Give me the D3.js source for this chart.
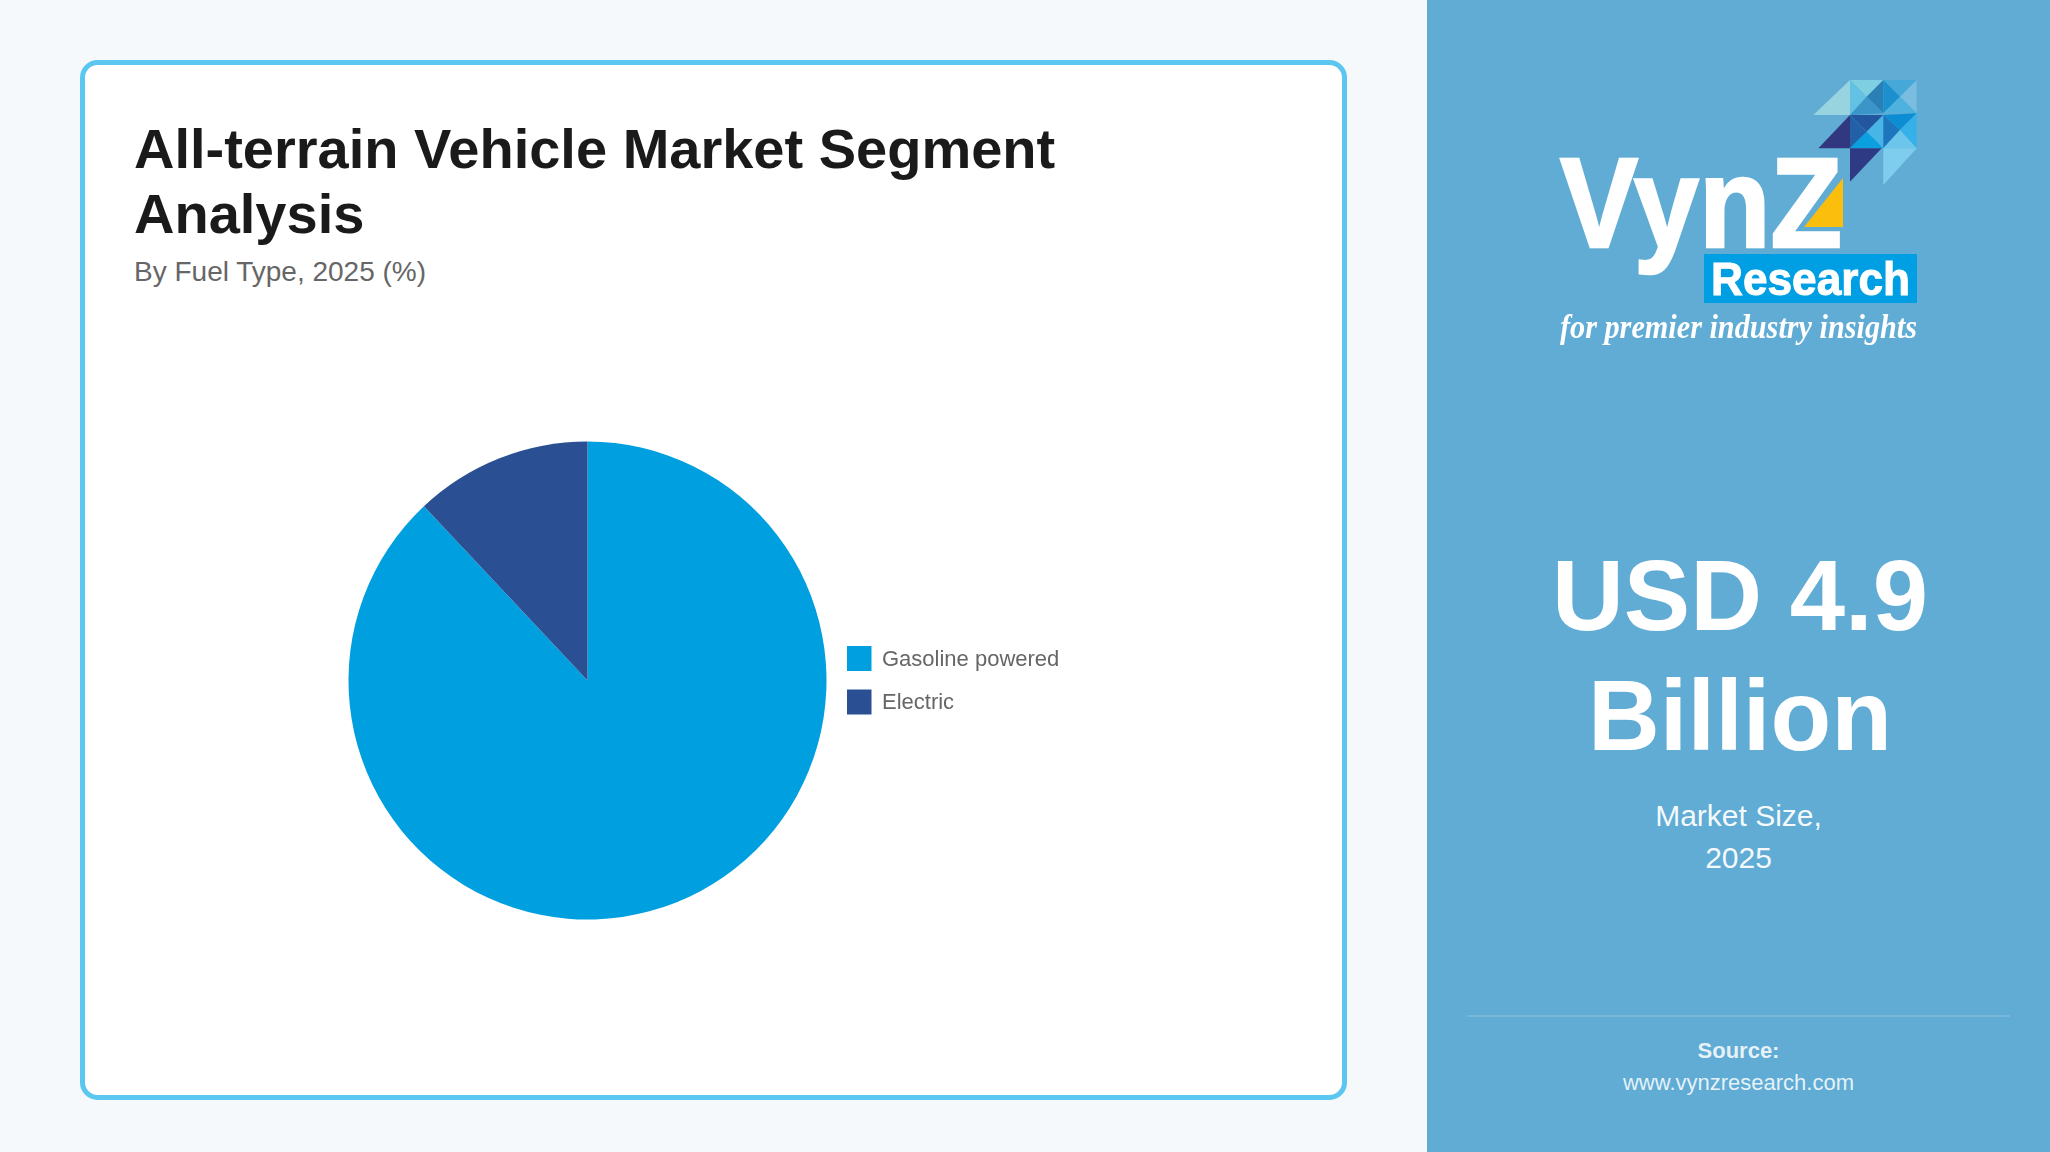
<!DOCTYPE html>
<html>
<head>
<meta charset="utf-8">
<title>All-terrain Vehicle Market Segment Analysis</title>
<script src="https://cdn.jsdelivr.net/npm/d3@7"></script>
<style>
  html, body { margin: 0; padding: 0; background: #f5f9fc; overflow: hidden; }
  text { font-family: "Liberation Sans", Arial, sans-serif; }
</style>
</head>
<body>
<div id="chart"></div>
<script>
// Chart data
const categories = ['Gasoline powered', 'Electric'];
const shares = [88, 12];
const sliceColors = ['#049fe0', '#2a4f92'];

// Page text
const titleLines = ['All-terrain Vehicle Market Segment', 'Analysis'];
const subtitle = 'By Fuel Type, 2025 (%)';
const sizeLines = ['USD 4.9', 'Billion'];
const sizeCaption = ['Market Size,', '2025'];

// Logo mosaic, [points in 130px crop units, colour]
const logoTriangles = [
  ['150,30 150,135 40,135', '#97d4e0'],
  ['150,30 250,30 200,80', '#7fcfe2'],
  ['150,30 200,80 150,135', '#63c2e3'],
  ['250,30 200,80 250,130', '#2c80b4'],
  ['200,80 250,130 150,135', '#3a95c8'],
  ['250,30 350,30 300,80', '#45a8d9'],
  ['250,30 300,80 250,130', '#1d8fcf'],
  ['350,30 350,130 300,80', '#7abde0'],
  ['300,80 350,130 250,130', '#50b2de'],
  ['150,135 150,235 55,235', '#30397f'],
  ['150,135 250,135 200,185', '#24569f'],
  ['150,135 200,185 150,235', '#2060a8'],
  ['250,135 200,185 250,235', '#47b5e6'],
  ['200,185 250,235 150,235', '#07a0e0'],
  ['250,135 350,130 300,180', '#0b8dd4'],
  ['250,135 300,180 250,235', '#1b75bd'],
  ['350,130 350,235 300,180', '#35b0e8'],
  ['300,180 350,235 250,235', '#6cc6ec'],
  ['150,235 245,235 150,335', '#2f3a84'],
  ['250,235 350,235 250,345', '#7fcdee']
];

const width = 2050;
const height = 1152;

const svg = d3.select('#chart')
  .append('svg')
  .attr('width', width)
  .attr('height', height)
  .style('display', 'block');

// The source chart and logo are soft, scaled-up images
const defs = svg.append('defs');
defs.append('filter').attr('id', 'soft')
  .append('feGaussianBlur').attr('stdDeviation', 0.7);

svg.append('rect')
  .attr('width', width)
  .attr('height', height)
  .attr('fill', '#f5f9fc');

// Card
svg.append('rect')
  .attr('x', 82.5)
  .attr('y', 62.5)
  .attr('width', 1262)
  .attr('height', 1035)
  .attr('rx', 15)
  .attr('fill', '#fff')
  .attr('stroke', '#5bc6f0')
  .attr('stroke-width', 5);

svg.selectAll('.title')
  .data(titleLines)
  .join('text')
  .attr('class', 'title')
  .attr('x', 134)
  .attr('y', (d, i) => 168 + i * 65)
  .attr('font-size', 56)
  .attr('font-weight', 700)
  .attr('fill', '#1a1a1a')
  .text(d => d);

svg.append('text')
  .attr('x', 134)
  .attr('y', 281)
  .attr('font-size', 28)
  .attr('fill', '#666')
  .text(subtitle);

// Pie
const chart = svg.append('g').attr('filter', 'url(#soft)');
const color = d3.scaleOrdinal().domain(categories).range(sliceColors);
const pie = d3.pie().sort(null)(shares);
const arc = d3.arc().innerRadius(0).outerRadius(239);

chart.append('g')
  .attr('transform', 'translate(587.5,680.5)')
  .selectAll('path')
  .data(pie)
  .join('path')
  .attr('d', arc)
  .attr('fill', (d, i) => color(categories[i]));

// Legend
const legendY = d3.scalePoint().domain(categories).range([658.5, 702]);
const legend = chart.selectAll('.legend')
  .data(categories)
  .join('g')
  .attr('class', 'legend')
  .attr('transform', d => `translate(847,${legendY(d)})`);

legend.append('rect')
  .attr('y', -12.5)
  .attr('width', 24.5)
  .attr('height', 25)
  .attr('fill', d => color(d));

legend.append('text')
  .attr('x', 35)
  .attr('dy', '0.33em')
  .attr('font-size', 22)
  .attr('fill', '#666')
  .text(d => d);

// Side panel
const panelX = 1427;
const panelMid = 1738.5;
svg.append('rect')
  .attr('x', panelX)
  .attr('width', width - panelX)
  .attr('height', height)
  .attr('fill', '#60acd4');

// Logo
const logo = svg.append('g').attr('filter', 'url(#soft)');
logo.append('g')
  .attr('transform', 'translate(1800,70) scale(0.3333)')
  .selectAll('polygon')
  .data(logoTriangles)
  .join('polygon')
  .attr('points', d => d[0])
  .attr('fill', d => d[1]);

logo.append('text')
  .attr('x', 1560)
  .attr('y', 247)
  .attr('font-size', 128)
  .attr('font-weight', 700)
  .attr('fill', '#fff')
  .attr('stroke', '#fff')
  .attr('stroke-width', 2.5)
  .attr('textLength', 282)
  .attr('lengthAdjust', 'spacingAndGlyphs')
  .text('VynZ');

logo.append('polygon')
  .attr('points', '1843,178 1843,227 1804,227')
  .attr('fill', '#fbbe08');

logo.append('rect')
  .attr('x', 1704)
  .attr('y', 254)
  .attr('width', 213)
  .attr('height', 49)
  .attr('fill', '#009fe3');

logo.append('text')
  .attr('x', 1711)
  .attr('y', 295)
  .attr('font-size', 46)
  .attr('font-weight', 700)
  .attr('fill', '#fff')
  .attr('stroke', '#fff')
  .attr('stroke-width', 1)
  .attr('textLength', 199)
  .attr('lengthAdjust', 'spacingAndGlyphs')
  .text('Research');

logo.append('text')
  .attr('x', 1560)
  .attr('y', 338)
  .attr('font-size', 33)
  .attr('font-weight', 700)
  .attr('font-style', 'italic')
  .attr('fill', '#fff')
  .attr('textLength', 357)
  .attr('lengthAdjust', 'spacingAndGlyphs')
  .style('font-family', '"Liberation Serif", serif')
  .text('for premier industry insights');

// Market size
svg.selectAll('.size')
  .data(sizeLines)
  .join('text')
  .attr('class', 'size')
  .attr('x', panelMid + 1.5)
  .attr('y', (d, i) => 630 + i * 120)
  .attr('text-anchor', 'middle')
  .attr('font-size', 99.5)
  .attr('font-weight', 700)
  .attr('fill', '#fff')
  .text(d => d);

svg.selectAll('.caption')
  .data(sizeCaption)
  .join('text')
  .attr('class', 'caption')
  .attr('x', panelMid)
  .attr('y', (d, i) => 826 + i * 41.6)
  .attr('text-anchor', 'middle')
  .attr('font-size', 30)
  .attr('fill', '#fff')
  .attr('fill-opacity', 0.95)
  .text(d => d);

// Source
svg.append('line')
  .attr('x1', 1467)
  .attr('x2', 2010)
  .attr('y1', 1016)
  .attr('y2', 1016)
  .attr('stroke', '#fff')
  .attr('stroke-opacity', 0.15)
  .attr('stroke-width', 2);

svg.append('text')
  .attr('x', panelMid)
  .attr('y', 1058)
  .attr('text-anchor', 'middle')
  .attr('font-size', 22)
  .attr('font-weight', 700)
  .attr('fill', '#fff')
  .attr('fill-opacity', 0.85)
  .text('Source:');

svg.append('text')
  .attr('x', panelMid)
  .attr('y', 1090)
  .attr('text-anchor', 'middle')
  .attr('font-size', 22)
  .attr('fill', '#fff')
  .attr('fill-opacity', 0.85)
  .text('www.vynzresearch.com');
</script>
</body>
</html>
